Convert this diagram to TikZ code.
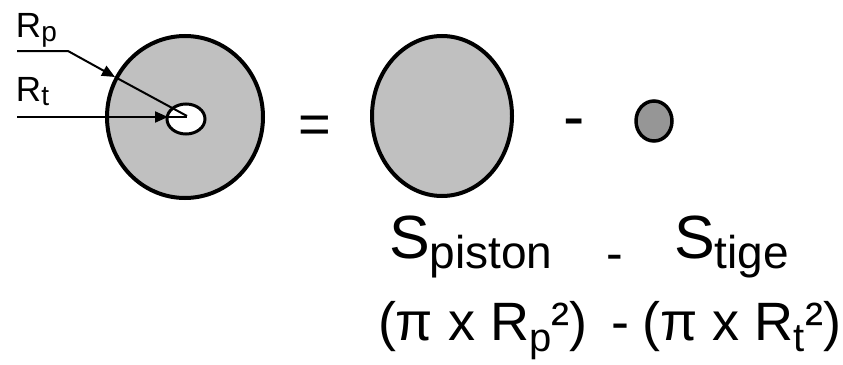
\documentclass[tikz,border=0pt]{standalone}
\usepackage{fontspec}
\setmainfont{Liberation Sans}
\usetikzlibrary{shapes.geometric,arrows.meta}
\newcommand\fsz[1]{\fontsize{#1}{#1}\selectfont}
\begin{document}
\begin{tikzpicture}[x=1pt,y=-1pt,
  txt/.style={inner sep=0pt, outer sep=0pt},
  disc/.style={ellipse, draw=black, line width=4pt, inner sep=0pt},
  ptr/.style={line width=2pt},
  tip/.style={-{Triangle[length=13pt,width=11pt]}}]
\useasboundingbox (0,0) rectangle (843,364);
% circles
\node[disc, fill={rgb,255:red,192;green,192;blue,192}, minimum width=156pt, minimum height=162pt] (outer) at (185,117) {};
\node[ellipse, draw=black, line width=3pt, fill=white, inner sep=0pt, minimum width=38pt, minimum height=30pt] (inner) at (186,119) {};
\node[disc, fill={rgb,255:red,192;green,192;blue,192}, minimum width=140pt, minimum height=160pt] (piston) at (442,116) {};
\node[disc, line width=3.5pt, fill={rgb,255:red,150;green,150;blue,150}, minimum width=36pt, minimum height=40pt] (tige) at (654,121) {};
% labels
\node[txt, anchor=base west] (rp) at (16,37) {\fsz{35}R\raisebox{-4pt}{\fsz{28}p}};
\node[txt, anchor=base west] (rt) at (16,101) {\fsz{35}R\raisebox{-4pt}{\fsz{28}t}};
\coordinate (c) at (187,116);
\coordinate (rpa) at (17,51);
\coordinate (rpb) at (68,51);
\coordinate (rptip) at (115,77);
\coordinate (rta) at (17,117);
\coordinate (rttip) at (168,117);
\draw[ptr, tip] (rpa) -- (rpb) -- (rptip);
\draw[ptr] (rptip) -- (c);
\draw[ptr, tip] (rta) -- (rttip);
\draw[ptr] (rttip) -- (c |- rttip);
% operators
\node[txt, anchor=base] (eq) at (315,143) {\fsz{56}=};
\node[txt, anchor=base] (m1) at (574,138) {\fsz{64}-};
% surfaces
\node[txt, anchor=base west] (sp) at (389,258) {\fsz{61}S\raisebox{-10pt}{\fsz{46}piston}};
\node[txt, anchor=base] (m2) at (615,270) {\fsz{50}-};
\node[txt, anchor=base west] (st) at (674,258) {\fsz{61}S\raisebox{-10pt}{\fsz{46}tige}};
% formula
\node[txt, anchor=base west] (f1) at (378,340) {\fsz{54}(π x R\raisebox{-11pt}{\fsz{40}p}²)};
\node[txt, anchor=base] (m3) at (620,340) {\fsz{54}-};
\node[txt, anchor=base east] (f2) at (841,340) {\fsz{54}(π x R\raisebox{-11pt}{\fsz{40}t}²)};
\end{tikzpicture}
\end{document}
